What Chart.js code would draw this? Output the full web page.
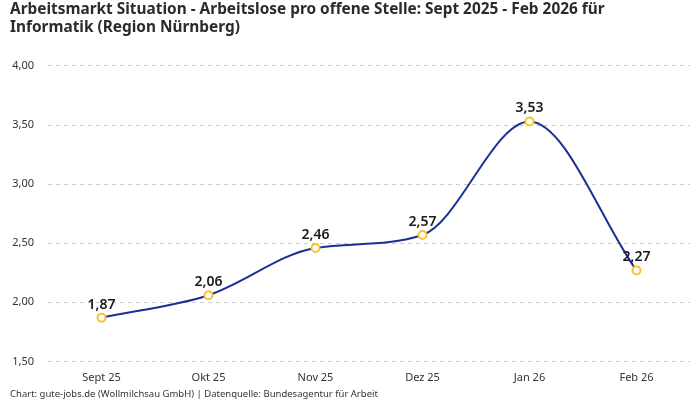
<!DOCTYPE html>
<html>
<head>
<meta charset="utf-8">
<script src="https://cdn.jsdelivr.net/npm/chart.js@4"></script>
<style>
  html, body { margin: 0; padding: 0; background: #fff; }
  .wrap { width: 700px; height: 400px; position: relative; }
</style>
</head>
<body>
<div class="wrap"><canvas id="chart"></canvas></div>
<script>
// Data
const months = ['Sept 25', 'Okt 25', 'Nov 25', 'Dez 25', 'Jan 26', 'Feb 26'];
const ratio = [1.87, 2.06, 2.46, 2.57, 3.53, 2.27];
const titleLines = [
  'Arbeitsmarkt Situation - Arbeitslose pro offene Stelle: Sept 2025 - Feb 2026 für',
  'Informatik (Region Nürnberg)'
];
const sourceText = 'Chart: gute-jobs.de (Wollmilchsau GmbH) | Datenquelle: Bundesagentur für Arbeit';

const FONT = '"Noto Sans", sans-serif';
const fmt = (v) => v.toFixed(2).replace('.', ',');

// Value labels above points
const valueLabels = {
  id: 'valueLabels',
  afterDatasetsDraw(chart) {
    const ctx = chart.ctx;
    const meta = chart.getDatasetMeta(0);
    ctx.save();
    ctx.font = '600 14px ' + FONT;
    ctx.fillStyle = '#1a1a1a';
    ctx.textAlign = 'center';
    ctx.textBaseline = 'bottom';
    meta.data.forEach((pt, i) => {
      ctx.fillText(fmt(ratio[i]), pt.x, pt.y - 6);
    });
    ctx.restore();
  }
};

new Chart(document.getElementById('chart'), {
  type: 'line',
  data: {
    labels: months,
    datasets: [{
      data: ratio,
      borderColor: '#1b2f95',
      borderWidth: 2,
      cubicInterpolationMode: 'monotone',
      pointBackgroundColor: '#ffffff',
      pointBorderColor: '#f9c22e',
      pointBorderWidth: 2,
      pointRadius: 4,
      fill: false
    }]
  },
  options: {
    responsive: true,
    maintainAspectRatio: false,
    animation: false,
    layout: { padding: { left: 10, right: 10, top: 0, bottom: 0 } },
    plugins: {
      legend: { display: false },
      tooltip: { enabled: false },
      title: {
        display: true,
        text: titleLines,
        align: 'start',
        color: '#2b2b2b',
        font: { family: FONT, size: 15.4, weight: 'bold', lineHeight: 1.2 },
        padding: { top: 0, bottom: 29 }
      },
      subtitle: {
        display: true,
        text: sourceText,
        position: 'bottom',
        align: 'start',
        color: '#333',
        font: { family: FONT, size: 9.5 },
        padding: { top: 2, bottom: 0 }
      }
    },
    scales: {
      x: {
        offset: true,
        grid: { display: false },
        border: { display: false },
        ticks: { color: '#333', font: { family: FONT, size: 11 }, padding: 2 }
      },
      y: {
        min: 1.5,
        max: 4,
        afterFit: (scale) => { scale.width = 38; },
        border: { display: false, dash: [4, 4] },
        grid: { color: '#cccccc', drawTicks: false },
        ticks: {
          stepSize: 0.5,
          color: '#333',
          padding: 14,
          font: { family: FONT, size: 11 },
          callback: (v) => fmt(v)
        }
      }
    }
  },
  plugins: [valueLabels]
});
</script>
</body>
</html>
